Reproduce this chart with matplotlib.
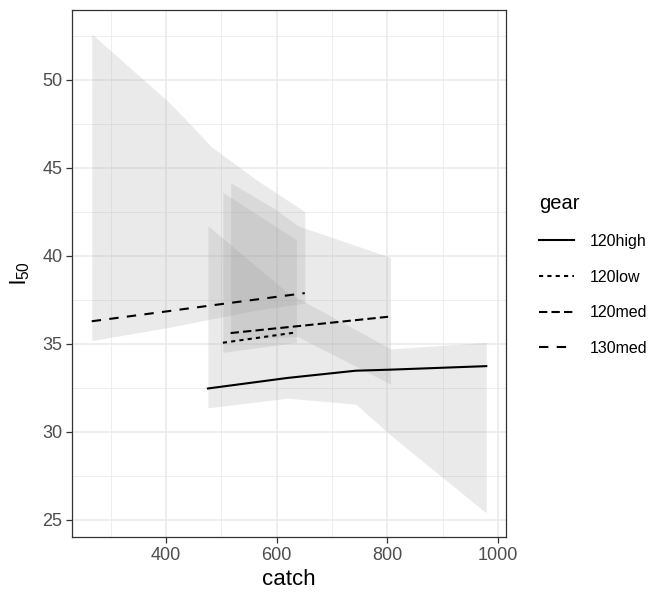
import numpy as np
import matplotlib.pyplot as plt
from matplotlib.ticker import MultipleLocator

plt.rcParams['font.family'] = ['Liberation Sans', 'DejaVu Sans']
plt.rcParams['mathtext.fontset'] = 'custom'
plt.rcParams['mathtext.rm'] = 'Liberation Sans'

# fitted l50 with confidence band, by gear
gears = ['120high', '120low', '120med', '130med']

catch_120high = [476, 620, 743, 806, 979]
fit_120high = [32.45, 33.05, 33.46, 33.52, 33.72]
lo_120high = [31.35, 31.9, 31.56, 29.8, 25.37]
hi_120high = [41.7, 37.9, 35.8, 34.7, 35.07]

catch_120low = [503, 636]
fit_120low = [35.05, 35.64]
lo_120low = [34.5, 35.07]
hi_120low = [43.6, 40.9]

catch_120med = [517, 600, 638, 806]
fit_120med = [35.6, 35.87, 35.99, 36.54]
lo_120med = [35.2, 35.35, 35.4, 32.7]
hi_120med = [44.15, 42.6, 41.7, 39.9]

catch_130med = [266, 401, 434, 482, 564, 651]
fit_130med = [36.27, 36.83, 36.97, 37.17, 37.51, 37.87]
lo_130med = [35.17, 35.9, 36.1, 36.4, 36.9, 37.3]
hi_130med = [52.6, 48.85, 47.8, 46.2, 44.3, 42.5]

series = {
    '120high': (catch_120high, fit_120high, lo_120high, hi_120high),
    '120low': (catch_120low, fit_120low, lo_120low, hi_120low),
    '120med': (catch_120med, fit_120med, lo_120med, hi_120med),
    '130med': (catch_130med, fit_130med, lo_130med, hi_130med),
}
linestyles = {
    '120high': '-',
    '120low': (0, (2, 2)),
    '120med': (0, (4, 2)),
    '130med': (0, (4.5, 4)),
}

fig = plt.figure(figsize=(6.56, 5.93), dpi=100)
ax = fig.add_axes([72 / 656, 1 - 537 / 593, 434 / 656, 527 / 593])

for g in gears:
    x, fit, lo, hi = series[g]
    ax.fill_between(x, lo, hi, color='#999999', alpha=0.2, lw=0, zorder=2)

handles = []
for g in gears:
    x, fit, lo, hi = series[g]
    ln, = ax.plot(x, fit, color='black', lw=1.5, ls=linestyles[g],
                  dash_capstyle='butt', zorder=3, label=g)
    handles.append(ln)

# ggplot-style 5% expansion
all_x = np.concatenate([series[g][0] for g in gears])
all_y = np.concatenate([series[g][2] + series[g][3] for g in gears])
dx = (all_x.max() - all_x.min()) * 0.05
dy = (all_y.max() - all_y.min()) * 0.05
ax.set_xlim(all_x.min() - dx, all_x.max() + dx)
ax.set_ylim(all_y.min() - dy, all_y.max() + dy)

ax.xaxis.set_major_locator(MultipleLocator(200))
ax.xaxis.set_minor_locator(MultipleLocator(100))
ax.yaxis.set_major_locator(MultipleLocator(5))
ax.yaxis.set_minor_locator(MultipleLocator(2.5))
ax.grid(which='major', color='#EBEBEB', lw=1.2, zorder=0)
ax.grid(which='minor', color='#EBEBEB', lw=0.6, zorder=0)
ax.set_axisbelow(True)
ax.tick_params(which='minor', length=0)
ax.tick_params(which='major', length=4, width=0.9, color='#333333',
               labelcolor='#4D4D4D', labelsize=13, pad=3)
for s in ax.spines.values():
    s.set_color('#333333')
    s.set_linewidth(0.9)

ax.set_xlabel('catch', fontsize=16, labelpad=4)
ax.set_ylabel(r'$\mathregular{l_{50}}$', fontsize=16, labelpad=7)

leg = ax.legend(handles=handles, title='gear', frameon=False,
                loc='upper left', bbox_to_anchor=(539 / 656, 1 - 194 / 593),
                bbox_transform=fig.transFigure, fontsize=11.5,
                title_fontsize=14.5, handlelength=2.2, handletextpad=0.95,
                labelspacing=1.3, borderpad=0, borderaxespad=0,
                alignment='left')

fig.savefig('out.png', dpi=100)
